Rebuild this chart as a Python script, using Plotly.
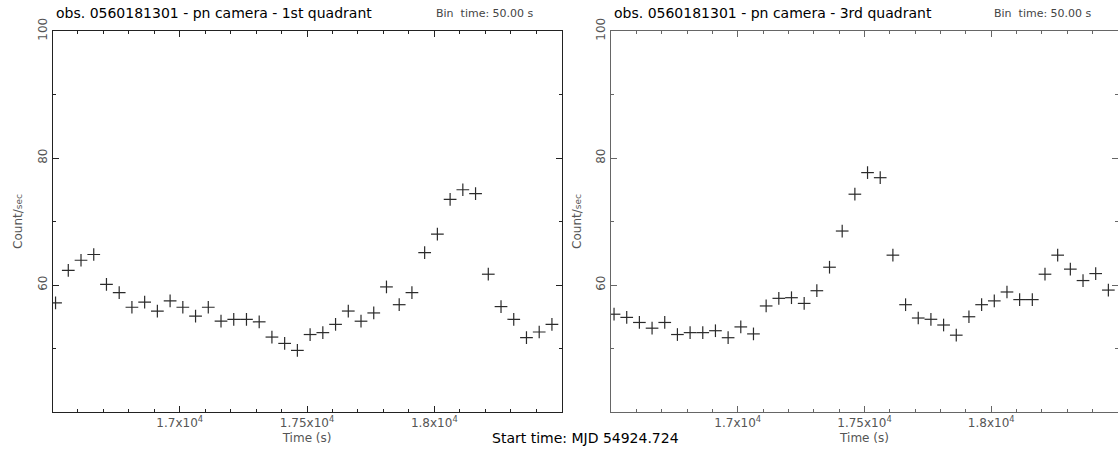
import plotly.graph_objects as go

# bin centres (s) shared by both quadrants
time_s = [16512, 16562, 16612, 16662, 16712, 16762, 16812, 16862, 16912, 16962,
          17012, 17062, 17112, 17162, 17212, 17262, 17312, 17362, 17412, 17462,
          17512, 17562, 17612, 17662, 17712, 17762, 17812, 17862, 17912, 17962,
          18012, 18062, 18112, 18162, 18212, 18262, 18312, 18362, 18412, 18462]

# count rate, 1st quadrant
rate_q1 = [57.2, 62.3, 63.9, 64.8, 60.1, 58.8, 56.5, 57.3, 55.9, 57.5,
           56.5, 55.1, 56.5, 54.3, 54.6, 54.6, 54.2, 51.8, 50.8, 49.7,
           52.2, 52.5, 53.8, 55.9, 54.3, 55.6, 59.7, 56.9, 58.8, 65.1,
           68.0, 73.5, 75.0, 74.4, 61.7, 56.6, 54.6, 51.7, 52.6, 53.8]

# count rate, 3rd quadrant
rate_q3 = [55.4, 54.9, 54.1, 53.2, 54.1, 52.2, 52.5, 52.5, 52.8, 51.7,
           53.4, 52.3, 56.7, 57.9, 58.0, 57.1, 59.1, 62.8, 68.5, 74.3,
           77.7, 76.9, 64.7, 56.9, 54.8, 54.6, 53.7, 52.1, 55.0, 56.9,
           57.5, 58.9, 57.7, 57.7, 61.7, 64.7, 62.5, 60.7, 61.8, 59.2]

bin_half = 25      # half of the 50 s bin
rate_err = 1.0     # count/sec error

x_ticks = [17000, 17500, 18000]
x_ticktext = ['1.7x10<sup>4</sup>', '1.75x10<sup>4</sup>', '1.8x10<sup>4</sup>']
y_ticks = [60, 80, 100]

W, H = 1118, 450
tick_font = dict(family='DejaVu Sans', size=12, color='#555')


def add_curve(fig, y, xa, ya, col):
    fig.add_trace(go.Scatter(
        x=time_s, y=y, mode='markers', xaxis=xa, yaxis=ya,
        marker=dict(size=0, opacity=0, color=col),
        error_x=dict(type='constant', value=bin_half, width=0, thickness=1.2, color=col),
        error_y=dict(type='constant', value=rate_err, width=0, thickness=1.2, color=col),
        showlegend=False, hoverinfo='x+y'
    ))


fig = go.Figure()
add_curve(fig, rate_q1, 'x', 'y', '#2a2a2a')
add_curve(fig, rate_q3, 'x2', 'y2', '#2a2a2a')


def xaxis_style(dom, anchor, lc):
    return dict(domain=dom, anchor=anchor, range=[16500, 18500], automargin=False,
                tickmode='array', tickvals=x_ticks, ticktext=x_ticktext,
                ticks='inside', ticklen=6, tickcolor=lc, tickwidth=1,
                minor=dict(tickmode='linear', tick0=16500, dtick=100, ticks='inside',
                           ticklen=3, tickcolor=lc),
                showline=True, linecolor=lc, linewidth=1, mirror='ticks',
                showgrid=False, zeroline=False, tickfont=tick_font,
                title=dict(text='Time (s)', font=tick_font, standoff=4))


def yaxis_style(anchor, lc):
    return dict(domain=[38 / H, 1 - 31 / H], anchor=anchor, range=[40, 100], automargin=False,
                tickmode='array', tickvals=y_ticks, tickangle=-90,
                ticks='inside', ticklen=6, tickcolor=lc, tickwidth=1,
                minor=dict(tickmode='linear', tick0=40, dtick=10, ticks='inside',
                           ticklen=3, tickcolor=lc),
                showline=True, linecolor=lc, linewidth=1, mirror='ticks',
                showgrid=False, zeroline=False, tickfont=tick_font,
                title=dict(text="Count/<span style='font-size:9px'>sec</span>",
                           font=tick_font, standoff=10))


fig.update_layout(
    width=W, height=H,
    margin=dict(l=0, r=0, t=0, b=0, autoexpand=False),
    paper_bgcolor='white', plot_bgcolor='white',
    xaxis=xaxis_style([52.5 / W, 561.6 / W], 'y', '#222'),
    yaxis=yaxis_style('x', '#222'),
    xaxis2=xaxis_style([611 / W, 1.0], 'y2', '#666'),
    yaxis2=yaxis_style('x2', '#666'),
)

title_font = dict(family='DejaVu Sans', size=14, color='black')
bin_font = dict(family='DejaVu Sans', size=11, color='#444')
ann = [
    dict(x=53.6 / W, y=1 - 13 / H, text='obs. 0560181301 - pn camera - 1st quadrant',
         xanchor='left', font=title_font),
    dict(x=536 / W, y=1 - 14 / H, text='Bin  time: 50.00 s', xanchor='right', font=bin_font),
    dict(x=611.6 / W, y=1 - 13 / H, text='obs. 0560181301 - pn camera - 3rd quadrant',
         xanchor='left', font=title_font),
    dict(x=1094 / W, y=1 - 14 / H, text='Bin  time: 50.00 s', xanchor='right', font=bin_font),
    dict(x=585 / W, y=1 - 438 / H, text='Start time: MJD 54924.724',
         xanchor='center', font=title_font),
]
for a in ann:
    a.update(xref='paper', yref='paper', yanchor='middle', showarrow=False)
fig.update_layout(annotations=ann)

# drop the default page margin so the figure sits at the window corner
fig.write_html("out.html", config={'displayModeBar': False},
               post_script="document.body.style.margin='0';")
